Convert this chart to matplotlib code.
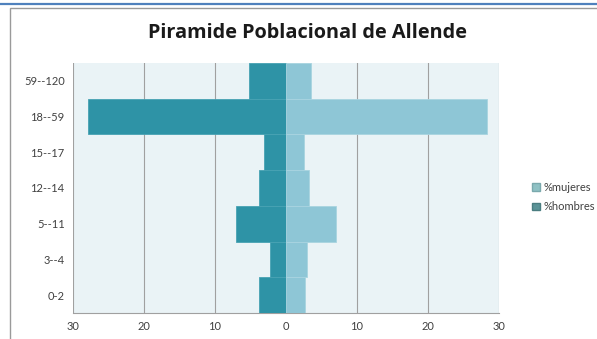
import matplotlib.pyplot as plt
import numpy as np
from matplotlib.patches import Rectangle, Patch
from matplotlib.lines import Line2D

# datos de la piramide
grupos = ['0-2', '3--4', '5--11', '12--14', '15--17', '18--59', '59--120']
hombres = [3.8, 2.2, 7.0, 3.8, 3.1, 27.9, 5.2]
mujeres = [2.7, 3.0, 7.0, 3.2, 2.5, 28.3, 3.5]
ticks_x = [-30, -20, -10, 0, 10, 20, 30]
etiquetas_x = ['30', '20', '10', '0', '10', '20', '30']

plt.rcParams['font.family'] = ['Lato', 'DejaVu Sans']

fig = plt.figure(figsize=(5.97, 3.39), dpi=100)
fig.patch.set_facecolor('white')

# marco y linea azul superior
fig.add_artist(Line2D([0, 1], [1 - 3.5/339, 1 - 3.5/339], color='#4f81bd', lw=1.6))
fig.add_artist(Rectangle((10/597, -0.05), 1.2, 1 - 8/339 + 0.05, fill=False,
                         edgecolor='#9a9a9a', lw=1.0))

ax = fig.add_axes([73/597, 1 - 313/339, (499 - 73)/597, (313 - 63)/339])
ax.set_facecolor('#eaf3f6')

y = np.arange(len(grupos))
ax.barh(y, [-h for h in hombres], height=1.0, color='#2e93a6', edgecolor='#48a2b3', lw=0.6, zorder=3)
ax.barh(y, mujeres, height=1.0, color='#8ec6d6', edgecolor='#a9d4e0', lw=0.6, zorder=3)

ax.set_xlim(-30, 30)
ax.set_ylim(-0.5, len(grupos) - 0.5)
ax.set_xticks(ticks_x)
ax.set_xticklabels(etiquetas_x)
ax.set_yticks(y)
ax.set_yticklabels(grupos)
ax.tick_params(axis='both', length=0, labelsize=8, colors='#404040', pad=6)
ax.grid(True, axis='x', color='#a0a0a0', lw=0.8, zorder=1)
for s in ['top', 'right']:
    ax.spines[s].set_visible(False)
ax.spines['left'].set_visible(False)
ax.spines['bottom'].set_color('#a0a0a0')

fig.text(308/597, 1 - 33/339, 'Piramide Poblacional de Allende', ha='center', va='center',
         fontsize=14.3, fontweight='bold', color='#1a1a1a', family='Open Sans')

handles = [Patch(facecolor='#8fc1c4', edgecolor='#7aa9ad'),
           Patch(facecolor='#5b9397', edgecolor='#4a7d80')]
fig.legend(handles, ['%mujeres', '%hombres'], loc='center left',
           bbox_to_anchor=(522/597, 1 - 197/339), frameon=False, fontsize=8,
           handlelength=0.7, handleheight=0.7, handletextpad=0.3, labelspacing=0.8,
           labelcolor='#404040')

fig.savefig('out.png', dpi=100)
